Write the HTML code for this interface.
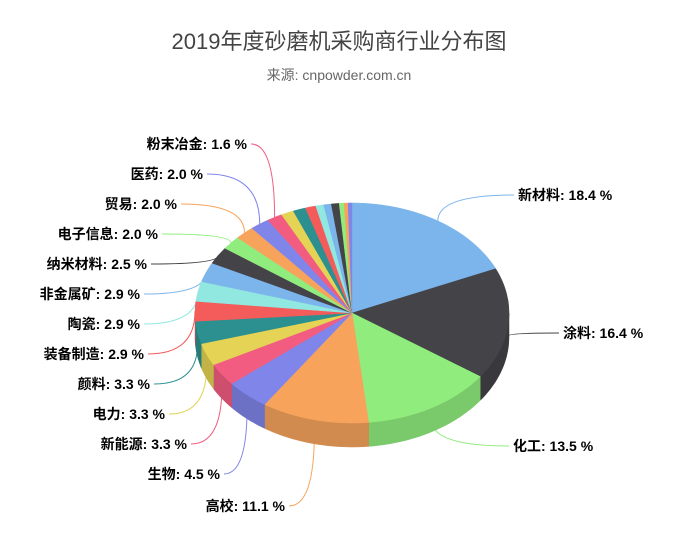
<!DOCTYPE html>
<html><head><meta charset="utf-8"><style>
html,body{margin:0;padding:0;background:#fff;}
svg text{font-family:"Liberation Sans","Noto Sans CJK SC",sans-serif;}
</style></head><body>
<svg id="s" width="678" height="539" xmlns="http://www.w3.org/2000/svg">
<rect width="678" height="539" fill="#fff"/>
<text x="339" y="49" text-anchor="middle" font-size="22" fill="#444">2019年度砂磨机采购商行业分布图</text>
<text x="339" y="80" text-anchor="middle" font-size="14" fill="#666">来源: cnpowder.com.cn</text>
<g id="g"></g>
</svg>
<script>
var cx=352,cy=313,rx=157,ry=110,D=24;
var data=[
["新材料",18.4,"#7cb5ec",518,200,"l"],
["涂料",16.4,"#434348",563,338,"l"],
["化工",13.5,"#90ed7d",513,451,"l"],
["高校",11.1,"#f7a35c",285,511,"r"],
["生物",4.5,"#8085e9",220,479,"r"],
["新能源",3.3,"#f15c80",187,449,"r"],
["电力",3.3,"#e4d354",165,419,"r"],
["颜料",3.3,"#2b908f",150,389,"r"],
["装备制造",2.9,"#f45b5b",144,359,"r"],
["陶瓷",2.9,"#91e8e1",140,329,"r"],
["非金属矿",2.9,"#7cb5ec",140,299,"r"],
["纳米材料",2.5,"#434348",147,269,"r"],
["电子信息",2.0,"#90ed7d",158,239,"r"],
["贸易",2.0,"#f7a35c",177,209,"r"],
["医药",2.0,"#8085e9",203,179,"r"],
["粉末冶金",1.6,"#f15c80",247,149,"r"],
[null,1.3,"#e4d354"],[null,1.3,"#2b908f"],[null,1.1,"#f45b5b"],[null,0.8,"#91e8e1"],
[null,0.8,"#7cb5ec"],[null,0.8,"#434348"],[null,0.5,"#90ed7d"],[null,0.4,"#f7a35c"],[null,0.4,"#8085e9"]];
function P(t,dy){return [cx+rx*Math.sin(t),cy-ry*Math.cos(t)+(dy||0)];}
function dark(c){var n=parseInt(c.slice(1),16),r=n>>16,g=(n>>8)&255,b=n&255;
return "rgb("+Math.round(r*.85)+","+Math.round(g*.85)+","+Math.round(b*.85)+")";}
var sides="",tops="",labs="",a=0;
function arc(t1,t2,dy){var s="",n=Math.max(2,Math.ceil((t2-t1)/0.03));
for(var i=0;i<=n;i++){var p=P(t1+(t2-t1)*i/n,dy);s+=(i?"L":"")+p[0].toFixed(1)+","+p[1].toFixed(1);}return s;}
data.forEach(function(d){
 var t1=a/100*2*Math.PI,t2=(a+d[1])/100*2*Math.PI;a+=d[1];
 var s1=Math.max(t1,Math.PI/2),s2=Math.min(t2,3*Math.PI/2);
 if(s2>s1){
  var back="";var n=Math.max(2,Math.ceil((s2-s1)/0.03));
  for(var i=n;i>=0;i--){var r=P(s1+(s2-s1)*i/n,D);back+="L"+r[0].toFixed(1)+","+r[1].toFixed(1);}
  sides+='<path d="M'+arc(s1,s2,0)+back+'Z" fill="'+dark(d[2])+'" stroke="'+dark(d[2])+'" stroke-width="0.5"/>';}
 tops+='<path d="M'+cx+','+cy+'L'+arc(t1,t2,0)+'Z" fill="'+d[2]+'" stroke="'+d[2]+'" stroke-width="0.5"/>';
 if(d[0]){var tm=(t1+t2)/2,e=P(tm,Math.cos(tm)<0?12:0),lx=d[3],ly=d[4]-5;
  var ex=d[5]=="l"?lx-4:lx+4;
  labs+='<path d="M'+e[0].toFixed(1)+','+e[1].toFixed(1)+'Q'+e[0].toFixed(1)+','+ly+' '+ex+','+ly+'" fill="none" stroke="'+d[2]+'" stroke-width="1"/>';
  labs+='<text x="'+lx+'" y="'+d[4]+'" font-size="14" font-weight="bold" fill="#000" text-anchor="'+(d[5]=="l"?"start":"end")+'">'+d[0]+': '+d[1].toFixed(1)+' %</text>';}
});
document.getElementById("g").innerHTML=labs+sides+tops;
</script>
</body></html>
